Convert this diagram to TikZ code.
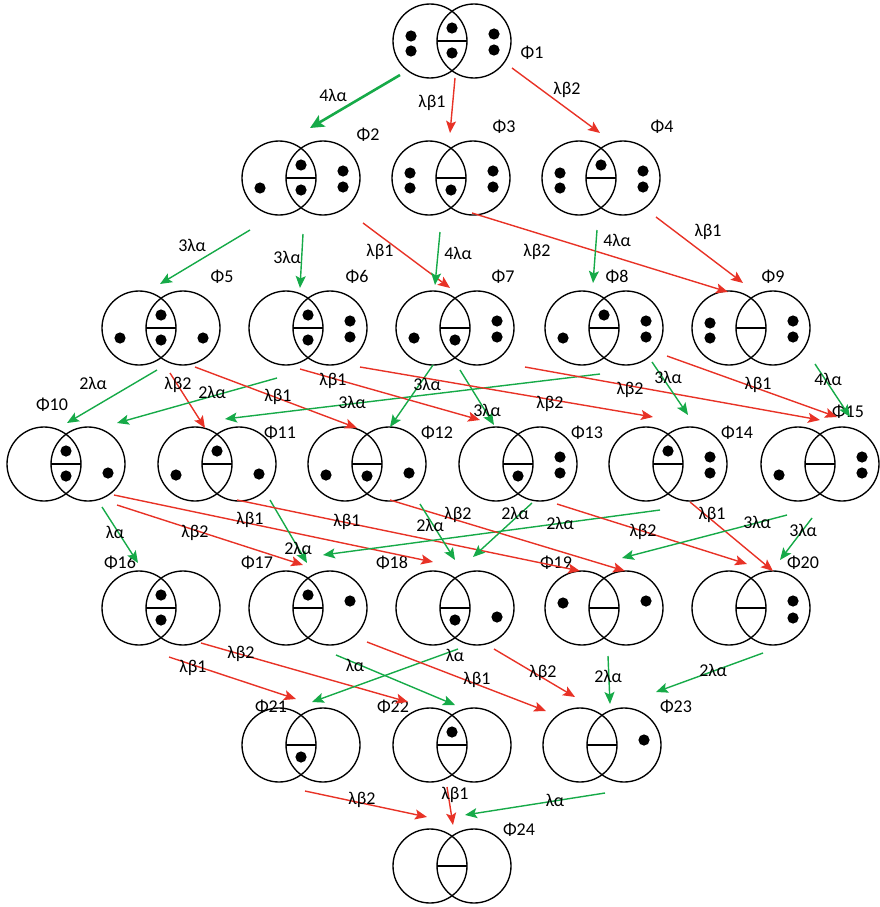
\documentclass[tikz,border=0pt]{standalone}
\usepackage{fontspec}
\setmainfont{Carlito}
\usetikzlibrary{arrows.meta}
\definecolor{trred}{RGB}{232,50,38}
\definecolor{trgreen}{RGB}{22,170,72}
\tikzset{
  ring/.style={draw=black, line width=1.35pt},
  ballfill/.style={fill=black},
  tip/.style={-{Stealth[length=12pt,width=10pt,inset=2.5pt]}},
  rarr/.style={draw=trred, line width=1.4pt, tip},
  garr/.style={draw=trgreen, line width=1.4pt, tip},
  gthick/.style={draw=trgreen, line width=2.6pt, -{Stealth[length=14pt,width=13pt,inset=3pt]}},
  rate/.style={font=\fontsize{18}{20}\selectfont, inner sep=0pt},
  tag/.style={font=\fontsize{18}{20}\selectfont, inner sep=0pt},
}
% a state: two overlapping circles with a bar across the lens
\newcommand\venn[3]{%
  \coordinate (#1) at (#2,#3);
  \draw[ring] ([shift={(-22,0)}]#1) circle[radius=37];
  \draw[ring] ([shift={(22,0)}]#1) circle[radius=37];
  \draw[ring] ([shift={(-15,0)}]#1) -- ([shift={(15,0)}]#1);
}
% one particle, offset from the state centre
\newcommand\ball[3]{\fill[ballfill] ([shift={(#2,#3)}]#1) circle[radius=5.6];}
% transition arrow between two states
\newcommand\link[5]{\draw[#1] ([shift={(#3)}]#2) -- ([shift={(#5)}]#4);}

\begin{document}
\begin{tikzpicture}[x=1pt,y=-1pt]
\useasboundingbox (0,0) rectangle (879,907);

% ---------- states ----------
\venn{P1}{452}{41}
\venn{P2}{301}{178}\venn{P3}{451}{178}\venn{P4}{601}{178}
\venn{P5}{161}{328}\venn{P6}{308}{328}\venn{P7}{455}{328}\venn{P8}{604}{328}\venn{P9}{751}{328}
\venn{P10}{66}{464}\venn{P11}{217}{464}\venn{P12}{367}{464}\venn{P13}{518}{464}\venn{P14}{668}{464}\venn{P15}{820}{464}
\venn{P16}{161}{608}\venn{P17}{308}{608}\venn{P18}{455}{608}\venn{P19}{604}{608}\venn{P20}{751}{608}
\venn{P21}{301}{745}\venn{P22}{452}{745}\venn{P23}{602}{745}
\venn{P24}{452}{866}

% ---------- particles ----------
\ball{P1}{-41}{-5}\ball{P1}{-41}{10}\ball{P1}{0}{-13}\ball{P1}{0}{12}\ball{P1}{42}{-7}\ball{P1}{42}{9}
\ball{P2}{-41}{10}\ball{P2}{0}{-13}\ball{P2}{0}{12}\ball{P2}{42}{-7}\ball{P2}{42}{9}
\ball{P3}{-41}{-5}\ball{P3}{-41}{10}\ball{P3}{0}{12}\ball{P3}{42}{-7}\ball{P3}{42}{9}
\ball{P4}{-41}{-5}\ball{P4}{-41}{10}\ball{P4}{0}{-13}\ball{P4}{42}{-7}\ball{P4}{42}{9}
\ball{P5}{-41}{10}\ball{P5}{0}{-13}\ball{P5}{0}{12}\ball{P5}{42}{10}
\ball{P6}{0}{-13}\ball{P6}{0}{12}\ball{P6}{42}{-7}\ball{P6}{42}{9}
\ball{P7}{-41}{10}\ball{P7}{0}{12}\ball{P7}{42}{-7}\ball{P7}{42}{9}
\ball{P8}{-41}{10}\ball{P8}{0}{-13}\ball{P8}{42}{-7}\ball{P8}{42}{9}
\ball{P9}{-41}{-5}\ball{P9}{-41}{10}\ball{P9}{42}{-7}\ball{P9}{42}{9}
\ball{P10}{0}{-13}\ball{P10}{0}{12}\ball{P10}{42}{9}
\ball{P11}{-41}{11}\ball{P11}{0}{-13}\ball{P11}{42}{10}
\ball{P12}{-41}{11}\ball{P12}{0}{12}\ball{P12}{42}{9}
\ball{P13}{0}{12}\ball{P13}{42}{-7}\ball{P13}{42}{9}
\ball{P14}{0}{-13}\ball{P14}{42}{-7}\ball{P14}{42}{9}
\ball{P15}{-41}{11}\ball{P15}{42}{-7}\ball{P15}{42}{9}
\ball{P16}{0}{-13}\ball{P16}{0}{12}
\ball{P17}{0}{-13}\ball{P17}{42}{-7}
\ball{P18}{0}{12}\ball{P18}{42}{9}
\ball{P19}{-41}{-5}\ball{P19}{42}{-7}
\ball{P20}{42}{-7}\ball{P20}{42}{10}
\ball{P21}{0}{12}
\ball{P22}{0}{-13}
\ball{P23}{42}{-5}

% ---------- state names ----------
\node[tag] (t1) at (532,53) {Φ1};
\node[tag] (t2) at (368,135) {Φ2};
\node[tag] (t3) at (504,127) {Φ3};
\node[tag] (t4) at (662,127) {Φ4};
\node[tag] (t5) at (222,277) {Φ5};
\node[tag] (t6) at (357,277) {Φ6};
\node[tag] (t7) at (503,277) {Φ7};
\node[tag] (t8) at (617,277) {Φ8};
\node[tag] (t9) at (773,277) {Φ9};
\node[tag] (t10) at (52,405) {Φ10};
\node[tag] (t11) at (280,433) {Φ11};
\node[tag] (t12) at (437,433) {Φ12};
\node[tag] (t13) at (587,433) {Φ13};
\node[tag] (t14) at (737,433) {Φ14};
\node[tag] (t15) at (848,412) {Φ15};
\node[tag] (t16) at (120,563) {Φ16};
\node[tag] (t17) at (257,563) {Φ17};
\node[tag] (t18) at (392,563) {Φ18};
\node[tag] (t19) at (556,563) {Φ19};
\node[tag] (t20) at (803,563) {Φ20};
\node[tag] (t21) at (271,707) {Φ21};
\node[tag] (t22) at (393,707) {Φ22};
\node[tag] (t23) at (676,707) {Φ23};
\node[tag] (t24) at (519,830) {Φ24};

% ---------- transitions: level 1 -> 2 ----------
\link{gthick}{P1}{-52,34}{P2}{9,-50}
\link{rarr}{P1}{3,37}{P3}{-1,-45}
\link{rarr}{P1}{60,27}{P4}{-1,-45}
\node[rate] (r1) at (333,95) {4λα};
\node[rate] (r2) at (432,103) {λβ1};
\node[rate] (r3) at (567,90) {λβ2};

% ---------- level 2 -> 3 ----------
\link{garr}{P2}{-51,52}{P5}{-1,-44}
\link{garr}{P2}{2,56}{P6}{-8,-40}
\link{rarr}{P2}{62,45}{P7}{-5,-40}
\link{garr}{P3}{-11,54}{P7}{-20,-43}
\link{rarr}{P3}{21,35}{P9}{-23,-36}
\link{garr}{P4}{-4,52}{P8}{-11,-45}
\link{rarr}{P4}{55,39}{P9}{-8,-45}
\node[rate] (r4) at (192,245) {3λα};
\node[rate] (r5) at (287,257) {3λα};
\node[rate] (r6) at (380,252) {λβ1};
\node[rate] (r7) at (458,253) {4λα};
\node[rate] (r8) at (537,252) {λβ2};
\node[rate] (r9) at (617,240) {4λα};
\node[rate] (r10) at (708,232) {λβ1};

% ---------- level 3 -> 4 ----------
\link{garr}{P5}{-4,42}{P10}{1,-41}
\link{rarr}{P5}{9,45}{P11}{-12,-36}
\link{garr}{P6}{-31,50}{P10}{51,-41}
\link{rarr}{P5}{34,39}{P12}{-10,-36}
\link{garr}{P8}{-4,46}{P11}{8,-45}
\link{rarr}{P6}{-8,41}{P13}{-38,-44}
\link{garr}{P7}{-22,37}{P12}{23,-37}
\link{garr}{P7}{5,42}{P13}{-24,-39}
\link{rarr}{P6}{52,39}{P14}{-15,-47}
\link{rarr}{P7}{70,39}{P15}{0,-44}
\link{rarr}{P8}{63,28}{P15}{17,-47}
\link{garr}{P8}{48,34}{P14}{20,-49}
\link{garr}{P9}{64,36}{P15}{30,-47}
\node[rate] (r11) at (93,383) {2λα};
\node[rate] (r12) at (178,385) {λβ2};
\node[rate] (r13) at (212,392) {2λα};
\node[rate] (r14) at (278,397) {λβ1};
\node[rate] (r15) at (352,402) {3λα};
\node[rate] (r16) at (333,381) {λβ1};
\node[rate] (r17) at (427,384) {3λα};
\node[rate] (r18) at (487,410) {3λα};
\node[rate] (r19) at (550,404) {λβ2};
\node[rate] (r20) at (630,390) {λβ2};
\node[rate] (r21) at (758,385) {λβ1};
\node[rate] (r22) at (668,377) {3λα};
\node[rate] (r23) at (828,379) {4λα};

% ---------- level 4 -> 5 ----------
\link{garr}{P10}{36,43}{P16}{-23,-45}
\link{rarr}{P10}{51,41}{P17}{-5,-43}
\link{rarr}{P10}{48,31}{P18}{-22,-46}
\link{garr}{P11}{53,36}{P17}{-1,-45}
\link{rarr}{P11}{20,36}{P19}{-24,-37}
\link{garr}{P14}{-8,46}{P17}{15,-53}
\link{rarr}{P12}{23,36}{P19}{21,-37}
\link{garr}{P12}{53,40}{P18}{0,-48}
\link{garr}{P13}{14,39}{P18}{18,-51}
\link{rarr}{P13}{39,40}{P20}{-4,-44}
\link{rarr}{P14}{22,38}{P20}{22,-37}
\link{garr}{P15}{-33,51}{P19}{18,-50}
\link{garr}{P15}{-8,54}{P20}{29,-48}
\node[rate] (r24) at (115,532) {λα};
\node[rate] (r25) at (195,533) {λβ2};
\node[rate] (r26) at (250,520) {λβ1};
\node[rate] (r27) at (298,548) {2λα};
\node[rate] (r28) at (347,522) {λβ1};
\node[rate] (r29) at (560,523) {2λα};
\node[rate] (r30) at (458,515) {λβ2};
\node[rate] (r31) at (430,525) {2λα};
\node[rate] (r32) at (515,513) {2λα};
\node[rate] (r33) at (643,532) {λβ2};
\node[rate] (r34) at (712,515) {λβ1};
\node[rate] (r35) at (757,522) {3λα};
\node[rate] (r36) at (803,530) {3λα};

% ---------- level 5 -> 6 ----------
\link{rarr}{P16}{8,49}{P21}{-5,-46}
\link{rarr}{P16}{40,35}{P22}{-44,-43}
\link{garr}{P17}{28,47}{P22}{3,-40}
\link{garr}{P18}{3,41}{P21}{11,-43}
\link{rarr}{P17}{59,34}{P23}{-56,-34}
\link{rarr}{P18}{39,41}{P23}{-27,-48}
\link{garr}{P19}{4,48}{P23}{8,-41}
\link{garr}{P20}{12,45}{P23}{54,-53}
\node[rate] (r37) at (193,668) {λβ1};
\node[rate] (r38) at (241,654) {λβ2};
\node[rate] (r39) at (355,665) {λα};
\node[rate] (r40) at (455,655) {λα};
\node[rate] (r41) at (477,680) {λβ1};
\node[rate] (r42) at (543,673) {λβ2};
\node[rate] (r43) at (608,676) {2λα};
\node[rate] (r44) at (713,670) {2λα};

% ---------- level 6 -> 7 ----------
\link{rarr}{P21}{4,46}{P24}{-25,-49}
\link{rarr}{P22}{-5,42}{P24}{1,-41}
\link{garr}{P23}{3,48}{P24}{13,-51}
\node[rate] (r45) at (362,800) {λβ2};
\node[rate] (r46) at (455,795) {λβ1};
\node[rate] (r47) at (555,800) {λα};
\end{tikzpicture}
\end{document}
